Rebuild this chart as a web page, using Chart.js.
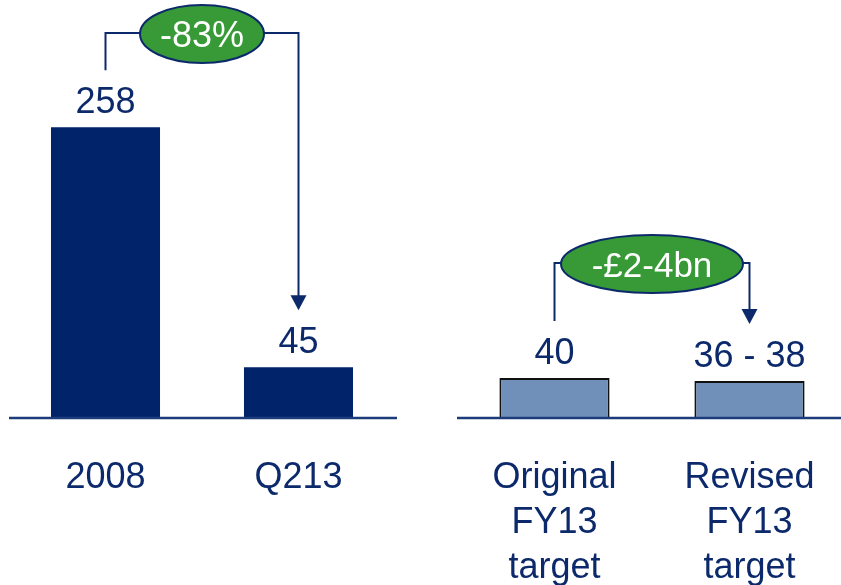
<!DOCTYPE html>
<html>
<head>
<meta charset="utf-8">
<script src="https://cdn.jsdelivr.net/npm/chart.js@4.4.1/dist/chart.umd.min.js"></script>
<style>
    html, body { margin: 0; padding: 0; background: #fff; overflow: hidden; }
    #wrap { position: relative; width: 841px; height: 585px; overflow: hidden; }
    canvas { position: absolute; top: 0; }
    #leftChart { left: 0; }
    #rightChart { left: 420px; }
</style>
</head>
<body>
<div id="wrap">
    <canvas id="leftChart" width="420" height="585"></canvas>
    <canvas id="rightChart" width="440" height="585"></canvas>
</div>
<script>
// =========================
// Data
// =========================
const leftCategories = [['2008'], ['Q213']];
const leftValues = [258, 45];
const leftValueLabels = ['258', '45'];
const leftChange = '-83%';

const rightCategories = [['Original', 'FY13', 'target'], ['Revised', 'FY13', 'target']];
const rightValues = [40, 37];
const rightValueLabels = ['40', '36 - 38'];
const rightChange = '-£2-4bn';

// =========================
// Styles
// =========================
const NAVY = '#0c2a6b';
const FONT = '"Liberation Sans", Arial, sans-serif';

// =========================
// Plugin: baseline, labels, bracket
// =========================
const decorPlugin = {
    id: 'decor',
    afterDraw(chart, args, opts) {
        const ctx = chart.ctx;
        const area = chart.chartArea;
        const meta = chart.getDatasetMeta(0);
        const x = chart.scales.x;
        const y = chart.scales.y;
        const base = y.getPixelForValue(0);

        ctx.save();

        // baseline
        ctx.strokeStyle = '#1d3c7c';
        ctx.lineWidth = 2.5;
        ctx.beginPath();
        ctx.moveTo(area.left, base);
        ctx.lineTo(area.right + 2, base);
        ctx.stroke();

        // value labels
        ctx.fillStyle = NAVY;
        ctx.font = '36px ' + FONT;
        ctx.textAlign = 'center';
        ctx.textBaseline = 'alphabetic';
        const tops = [];
        meta.data.forEach((bar, i) => {
            const top = y.getPixelForValue(opts.values[i]);
            tops.push(top);
            ctx.fillText(opts.valueLabels[i], bar.x, top - 14);
        });

        // category labels
        opts.categories.forEach((lines, i) => {
            const cx = x.getPixelForValue(i);
            lines.forEach((line, j) => {
                ctx.fillText(line, cx, 488 + j * 45);
            });
        });

        // bracket with arrow
        const x0 = meta.data[0].x;
        const x1 = meta.data[1].x;
        const ly = opts.bracketY;
        const end0 = tops[0] - 57;
        const end1 = tops[1] - 57;
        ctx.strokeStyle = NAVY;
        ctx.lineWidth = 2;
        ctx.beginPath();
        ctx.moveTo(x0, end0);
        ctx.lineTo(x0, ly);
        ctx.lineTo(x1, ly);
        ctx.lineTo(x1, end1 - 14);
        ctx.stroke();

        ctx.fillStyle = NAVY;
        ctx.beginPath();
        ctx.moveTo(x1 - 8, end1 - 15);
        ctx.lineTo(x1 + 8, end1 - 15);
        ctx.lineTo(x1, end1);
        ctx.closePath();
        ctx.fill();

        // green ellipse
        const cx = (x0 + x1) / 2;
        const cy = ly + 1;
        ctx.beginPath();
        ctx.ellipse(cx, cy, opts.rx, 29, 0, 0, Math.PI * 2);
        ctx.fillStyle = '#389a37';
        ctx.fill();
        ctx.lineWidth = 2;
        ctx.strokeStyle = NAVY;
        ctx.stroke();

        ctx.fillStyle = '#ffffff';
        ctx.font = opts.changeSize + 'px ' + FONT;
        ctx.fillText(opts.change, cx, cy + opts.changeSize * 0.36);

        ctx.restore();
    }
};

// =========================
// Render a bar group
// =========================
function renderGroup(id, categories, values, valueLabels, opts) {
    const ctx = document.getElementById(id);
    return new Chart(ctx, {
        type: 'bar',
        data: {
            labels: categories.map(c => c.join(' ')),
            datasets: [{
                data: values,
                backgroundColor: opts.fill,
                borderColor: opts.border,
                borderWidth: opts.borderWidth,
                borderSkipped: 'bottom',
                categoryPercentage: 1,
                barPercentage: 0.565
            }]
        },
        options: {
            responsive: false,
            animation: false,
            devicePixelRatio: 1,
            layout: { padding: opts.padding },
            plugins: {
                legend: { display: false },
                tooltip: { enabled: false },
                decor: {
                    categories: categories,
                    values: values,
                    valueLabels: valueLabels,
                    change: opts.change,
                    changeSize: opts.changeSize,
                    bracketY: opts.bracketY,
                    rx: opts.rx
                }
            },
            scales: {
                x: { display: false },
                y: { display: false, min: 0, max: opts.max }
            }
        },
        plugins: [decorPlugin]
    });
}

renderGroup('leftChart', leftCategories, leftValues, leftValueLabels, {
    fill: '#00236a',
    border: '#00236a',
    borderWidth: 0,
    padding: { left: 9, right: 25, top: 80, bottom: 167 },
    max: 300,
    change: leftChange,
    changeSize: 36,
    bracketY: 33,
    rx: 62
});

renderGroup('rightChart', rightCategories, rightValues, rightValueLabels, {
    fill: '#7090ba',
    border: '#111111',
    borderWidth: 2,
    padding: { left: 37, right: 13, top: 80, bottom: 167 },
    max: 338,
    change: rightChange,
    changeSize: 35,
    bracketY: 263,
    rx: 91
});
</script>
</body>
</html>
